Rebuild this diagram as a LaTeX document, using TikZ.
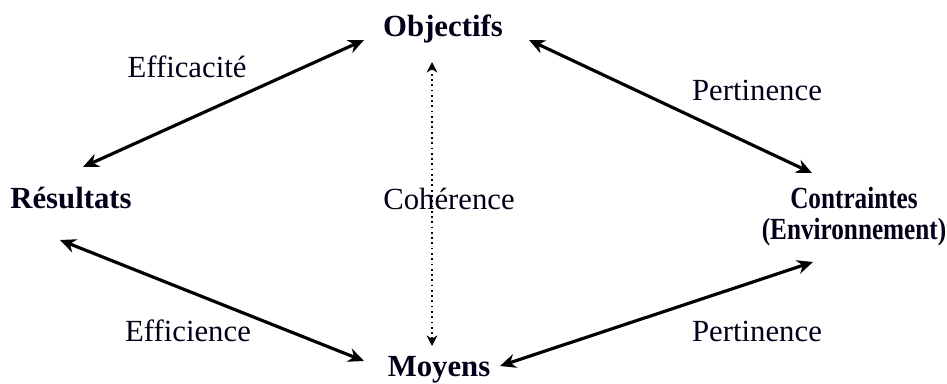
\documentclass[tikz,border=0pt]{standalone}
\usepackage{fontspec}
\setmainfont{Liberation Serif}
\usetikzlibrary{arrows.meta}
\begin{document}
\begin{tikzpicture}[x=0.02cm,y=-0.02cm,
  lbl/.style={font=\fontsize{17.5}{18}\selectfont, inner sep=0pt, text=black!90!blue},
  key/.style={lbl, font=\fontsize{17.5}{18}\selectfont\bfseries, align=center},
  link/.style={line width=1.8pt, {Stealth[length=9pt,width=8pt]}-{Stealth[length=9pt,width=8pt]}},
  dots/.style={line width=1pt, dotted, {Stealth[length=6pt,width=6pt]}-{Stealth[length=6pt,width=6pt]}}]
\useasboundingbox (0,0) rectangle (947,383);
\node[key] (obj) at (443,29) {Objectifs};
\node[key] (res) at (71,198) {Résultats};
\node[key, font=\fontsize{17.5}{17.6}\selectfont\bfseries, xscale=0.82, transform shape] (con) at (854,217) {Contraintes\\(Environnement)};
\node[key] (moy) at (439,370) {Moyens};
\node[lbl] (coh) at (449,199) {Cohérence};
\node[lbl] (eca) at (187,67) {Efficacité};
\node[lbl] (per1) at (757,90) {Pertinence};
\node[lbl] (eci) at (188,331) {Efficience};
\node[lbl] (per2) at (757,331) {Pertinence};
\coordinate (a1) at (83,167);
\coordinate (a2) at (364,40);
\coordinate (b1) at (529,40);
\coordinate (b2) at (812,173);
\coordinate (c1) at (60,240);
\coordinate (c2) at (364,361);
\coordinate (d1) at (500,366);
\coordinate (d2) at (813,262);
\coordinate (v1) at (432,62);
\coordinate (v2) at (432,346);
\draw[link] (a1) -- (a2);
\draw[link] (b1) -- (b2);
\draw[link] (c1) -- (c2);
\draw[link] (d1) -- (d2);
\draw[dots] (v1) -- (v2);
\end{tikzpicture}
\end{document}
